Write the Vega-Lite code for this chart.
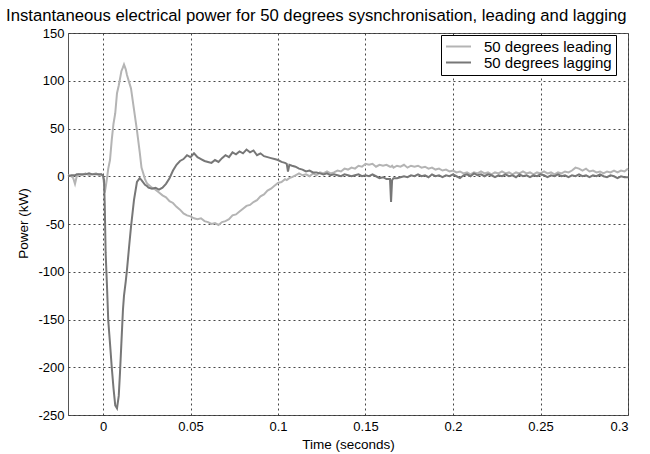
{
  "$schema": "https://vega.github.io/schema/vega-lite/v6.json",
  "width": 560,
  "height": 382,
  "autosize": "none",
  "padding": {"left": 68, "top": 33, "right": 22, "bottom": 39},
  "background": "white",
  "title": {"text": "Instantaneous electrical power for 50 degrees sysnchronisation, leading and lagging", "anchor": "start", "frame": "group", "dx": -62, "offset": 2, "font": "Liberation Sans", "fontSize": 16.7, "fontWeight": "normal", "color": "#000"},
  "config": {
    "view": {"stroke": "#555", "strokeWidth": 1},
    "axis": {"domain": false, "ticks": false, "grid": true, "gridColor": "#333", "gridDash": [2, 3], "gridOpacity": 0.9, "labelFont": "Liberation Sans", "labelFontSize": 13, "labelColor": "#000", "titleFont": "Liberation Sans", "titleFontSize": 13.5, "titleFontWeight": "normal", "titleColor": "#000"}
  },
  "data": {"values": [
    {"t":-0.020,"a":1,"b":0},{"t":-0.018,"a":0,"b":1},{"t":-0.017,"a":-2,"b":1},{"t":-0.016,"a":-8,"b":1},{"t":-0.015,"a":0,"b":2},{"t":-0.014,"a":2,"b":2},{"t":-0.012,"a":1,"b":2},{"t":-0.010,"a":3,"b":2},{"t":-0.008,"a":1,"b":3},{"t":-0.006,"a":2,"b":2},{"t":-0.004,"a":3,"b":2},{"t":-0.002,"a":1,"b":2},{"t":-0.001,"a":2,"b":2},{"t":0.000,"a":0,"b":1},
    {"t":0.0006,"a":-8,"b":-4},{"t":0.001,"a":-17,"b":-30},{"t":0.0015,"a":-12,"b":-80},{"t":0.0023,"a":-2,"b":-116},{"t":0.003,"a":8,"b":-151},{"t":0.004,"a":17,"b":-175},{"t":0.005,"a":38,"b":-200},{"t":0.006,"a":55,"b":-222},{"t":0.007,"a":66,"b":-240},{"t":0.008,"a":87,"b":-243},{"t":0.009,"a":95,"b":-230},{"t":0.0097,"a":102,"b":-206},{"t":0.0105,"a":110,"b":-175},{"t":0.0114,"a":114,"b":-140},{"t":0.012,"a":117,"b":-125},{"t":0.013,"a":112,"b":-110},{"t":0.0137,"a":106,"b":-98},{"t":0.015,"a":98,"b":-72},{"t":0.016,"a":92,"b":-53},{"t":0.0177,"a":70,"b":-25},{"t":0.0194,"a":48,"b":-6},{"t":0.021,"a":25,"b":-2},{"t":0.022,"a":9,"b":-4},{"t":0.024,"a":-3,"b":-9},{"t":0.025,"a":-7,"b":-10},{"t":0.026,"a":-9,"b":-12},{"t":0.028,"a":-12,"b":-13},
    {"t":0.030,"a":-14,"b":-12},{"t":0.032,"a":-17,"b":-14},{"t":0.034,"a":-20,"b":-12},{"t":0.036,"a":-22,"b":-8},{"t":0.038,"a":-26,"b":-2},{"t":0.040,"a":-28,"b":6},{"t":0.042,"a":-32,"b":12},{"t":0.044,"a":-35,"b":16},{"t":0.046,"a":-39,"b":18},{"t":0.048,"a":-41,"b":22},{"t":0.050,"a":-42,"b":20},{"t":0.052,"a":-44,"b":24},{"t":0.054,"a":-45,"b":20},{"t":0.056,"a":-44,"b":18},{"t":0.058,"a":-47,"b":16},{"t":0.060,"a":-48,"b":15},{"t":0.062,"a":-50,"b":14},{"t":0.064,"a":-49,"b":17},{"t":0.066,"a":-51,"b":15},{"t":0.068,"a":-48,"b":19},{"t":0.070,"a":-47,"b":22},{"t":0.072,"a":-45,"b":20},{"t":0.074,"a":-41,"b":25},{"t":0.076,"a":-40,"b":23},{"t":0.078,"a":-37,"b":26},{"t":0.080,"a":-34,"b":24},{"t":0.082,"a":-31,"b":28},{"t":0.084,"a":-30,"b":25},{"t":0.086,"a":-27,"b":27},{"t":0.088,"a":-25,"b":22},{"t":0.090,"a":-21,"b":24},{"t":0.092,"a":-19,"b":21},{"t":0.094,"a":-15,"b":20},{"t":0.096,"a":-13,"b":19},{"t":0.098,"a":-10,"b":18},
    {"t":0.100,"a":-7,"b":17},{"t":0.102,"a":-6,"b":15},{"t":0.104,"a":-3,"b":14},{"t":0.105,"a":-4,"b":13},{"t":0.1057,"a":-3,"b":5},{"t":0.1065,"a":-2,"b":12},{"t":0.108,"a":-1,"b":11},{"t":0.110,"a":1,"b":10},{"t":0.112,"a":3,"b":8},{"t":0.114,"a":1,"b":7},{"t":0.116,"a":2,"b":5},{"t":0.118,"a":0,"b":6},{"t":0.120,"a":3,"b":4},{"t":0.122,"a":1,"b":4},{"t":0.124,"a":4,"b":3},{"t":0.126,"a":3,"b":2},{"t":0.128,"a":5,"b":3},{"t":0.130,"a":3,"b":1},{"t":0.132,"a":4,"b":2},{"t":0.134,"a":6,"b":1},{"t":0.136,"a":5,"b":0},{"t":0.138,"a":8,"b":2},{"t":0.140,"a":7,"b":1},{"t":0.142,"a":9,"b":0},{"t":0.144,"a":8,"b":1},{"t":0.146,"a":11,"b":2},{"t":0.148,"a":10,"b":0},{"t":0.150,"a":13,"b":1},{"t":0.152,"a":12,"b":0},{"t":0.154,"a":13,"b":2},{"t":0.156,"a":10,"b":0},{"t":0.158,"a":12,"b":-2},{"t":0.160,"a":11,"b":-1},{"t":0.162,"a":12,"b":-3},{"t":0.164,"a":10,"b":-3},{"t":0.1646,"a":10,"b":-27},{"t":0.1652,"a":11,"b":-4},{"t":0.166,"a":9,"b":-2},{"t":0.168,"a":11,"b":-2},{"t":0.170,"a":10,"b":-1},{"t":0.172,"a":12,"b":0},{"t":0.174,"a":9,"b":-1},{"t":0.176,"a":11,"b":1},{"t":0.178,"a":10,"b":0},{"t":0.180,"a":11,"b":2},{"t":0.182,"a":9,"b":0},{"t":0.184,"a":10,"b":1},{"t":0.186,"a":8,"b":-1},{"t":0.188,"a":9,"b":2},{"t":0.190,"a":7,"b":0},{"t":0.192,"a":8,"b":1},{"t":0.194,"a":6,"b":-1},{"t":0.196,"a":7,"b":1},{"t":0.198,"a":5,"b":0},
    {"t":0.200,"a":6,"b":2},{"t":0.202,"a":4,"b":0},{"t":0.204,"a":5,"b":-2},{"t":0.206,"a":3,"b":1},{"t":0.208,"a":4,"b":2},{"t":0.210,"a":2,"b":0},{"t":0.212,"a":4,"b":3},{"t":0.214,"a":3,"b":1},{"t":0.216,"a":5,"b":2},{"t":0.218,"a":3,"b":0},{"t":0.220,"a":4,"b":2},{"t":0.222,"a":2,"b":1},{"t":0.224,"a":4,"b":-1},{"t":0.226,"a":3,"b":1},{"t":0.228,"a":5,"b":0},{"t":0.230,"a":3,"b":2},{"t":0.232,"a":4,"b":0},{"t":0.234,"a":2,"b":1},{"t":0.236,"a":4,"b":-1},{"t":0.238,"a":3,"b":2},{"t":0.240,"a":5,"b":0},{"t":0.242,"a":3,"b":1},{"t":0.244,"a":4,"b":-1},{"t":0.246,"a":2,"b":1},{"t":0.248,"a":4,"b":0},{"t":0.250,"a":3,"b":2},{"t":0.252,"a":5,"b":1},{"t":0.254,"a":3,"b":-1},{"t":0.256,"a":4,"b":1},{"t":0.258,"a":2,"b":0},{"t":0.260,"a":4,"b":2},{"t":0.262,"a":3,"b":0},{"t":0.264,"a":5,"b":1},{"t":0.266,"a":4,"b":-1},{"t":0.268,"a":6,"b":1},{"t":0.270,"a":9,"b":0},{"t":0.272,"a":8,"b":2},{"t":0.274,"a":6,"b":0},{"t":0.276,"a":8,"b":1},{"t":0.278,"a":5,"b":-1},{"t":0.280,"a":6,"b":1},{"t":0.282,"a":4,"b":0},{"t":0.284,"a":5,"b":2},{"t":0.286,"a":3,"b":0},{"t":0.288,"a":5,"b":-1},{"t":0.290,"a":4,"b":1},{"t":0.292,"a":6,"b":0},{"t":0.294,"a":4,"b":-2},{"t":0.296,"a":6,"b":0},{"t":0.298,"a":5,"b":-1},{"t":0.300,"a":8,"b":-1}
  ]},
  "encoding": {
    "x": {"field": "t", "type": "quantitative", "title": "Time (seconds)",
      "scale": {"domain": [-0.02, 0.3], "nice": false, "zero": false},
      "axis": {"values": [0, 0.05, 0.1, 0.15, 0.2, 0.25, 0.3], "format": ".2~f", "labelPadding": 5, "titleY": 22}}
  },
  "layer": [
    {"mark": {"type": "line", "strokeWidth": 2},
     "encoding": {
       "y": {"field": "a", "type": "quantitative", "title": "Power (kW)",
         "scale": {"domain": [-250, 150], "nice": false, "zero": false},
         "axis": {"values": [-250, -200, -150, -100, -50, 0, 50, 100, 150], "labelExpr": "'' + datum.value", "labelPadding": 4, "titleX": -38, "titleY": 190}},
       "color": {"datum": "50 degrees leading", "type": "nominal",
         "scale": {"domain": ["50 degrees leading", "50 degrees lagging"], "range": ["#b4b4b4", "#777777"]},
         "legend": {"title": null, "orient": "none", "legendX": 373, "legendY": 2, "strokeColor": "#000", "fillColor": "white", "padding": 4, "symbolOffset": 6, "symbolType": "M-2.5,0H2.5", "symbolSize": 100, "symbolStrokeWidth": 2, "labelFont": "Liberation Sans", "labelFontSize": 15, "labelColor": "#000", "labelOffset": 18, "rowPadding": 0}}
     }},
    {"mark": {"type": "line", "strokeWidth": 2},
     "encoding": {
       "y": {"field": "b", "type": "quantitative"},
       "color": {"datum": "50 degrees lagging", "type": "nominal"}
     }}
  ]
}
